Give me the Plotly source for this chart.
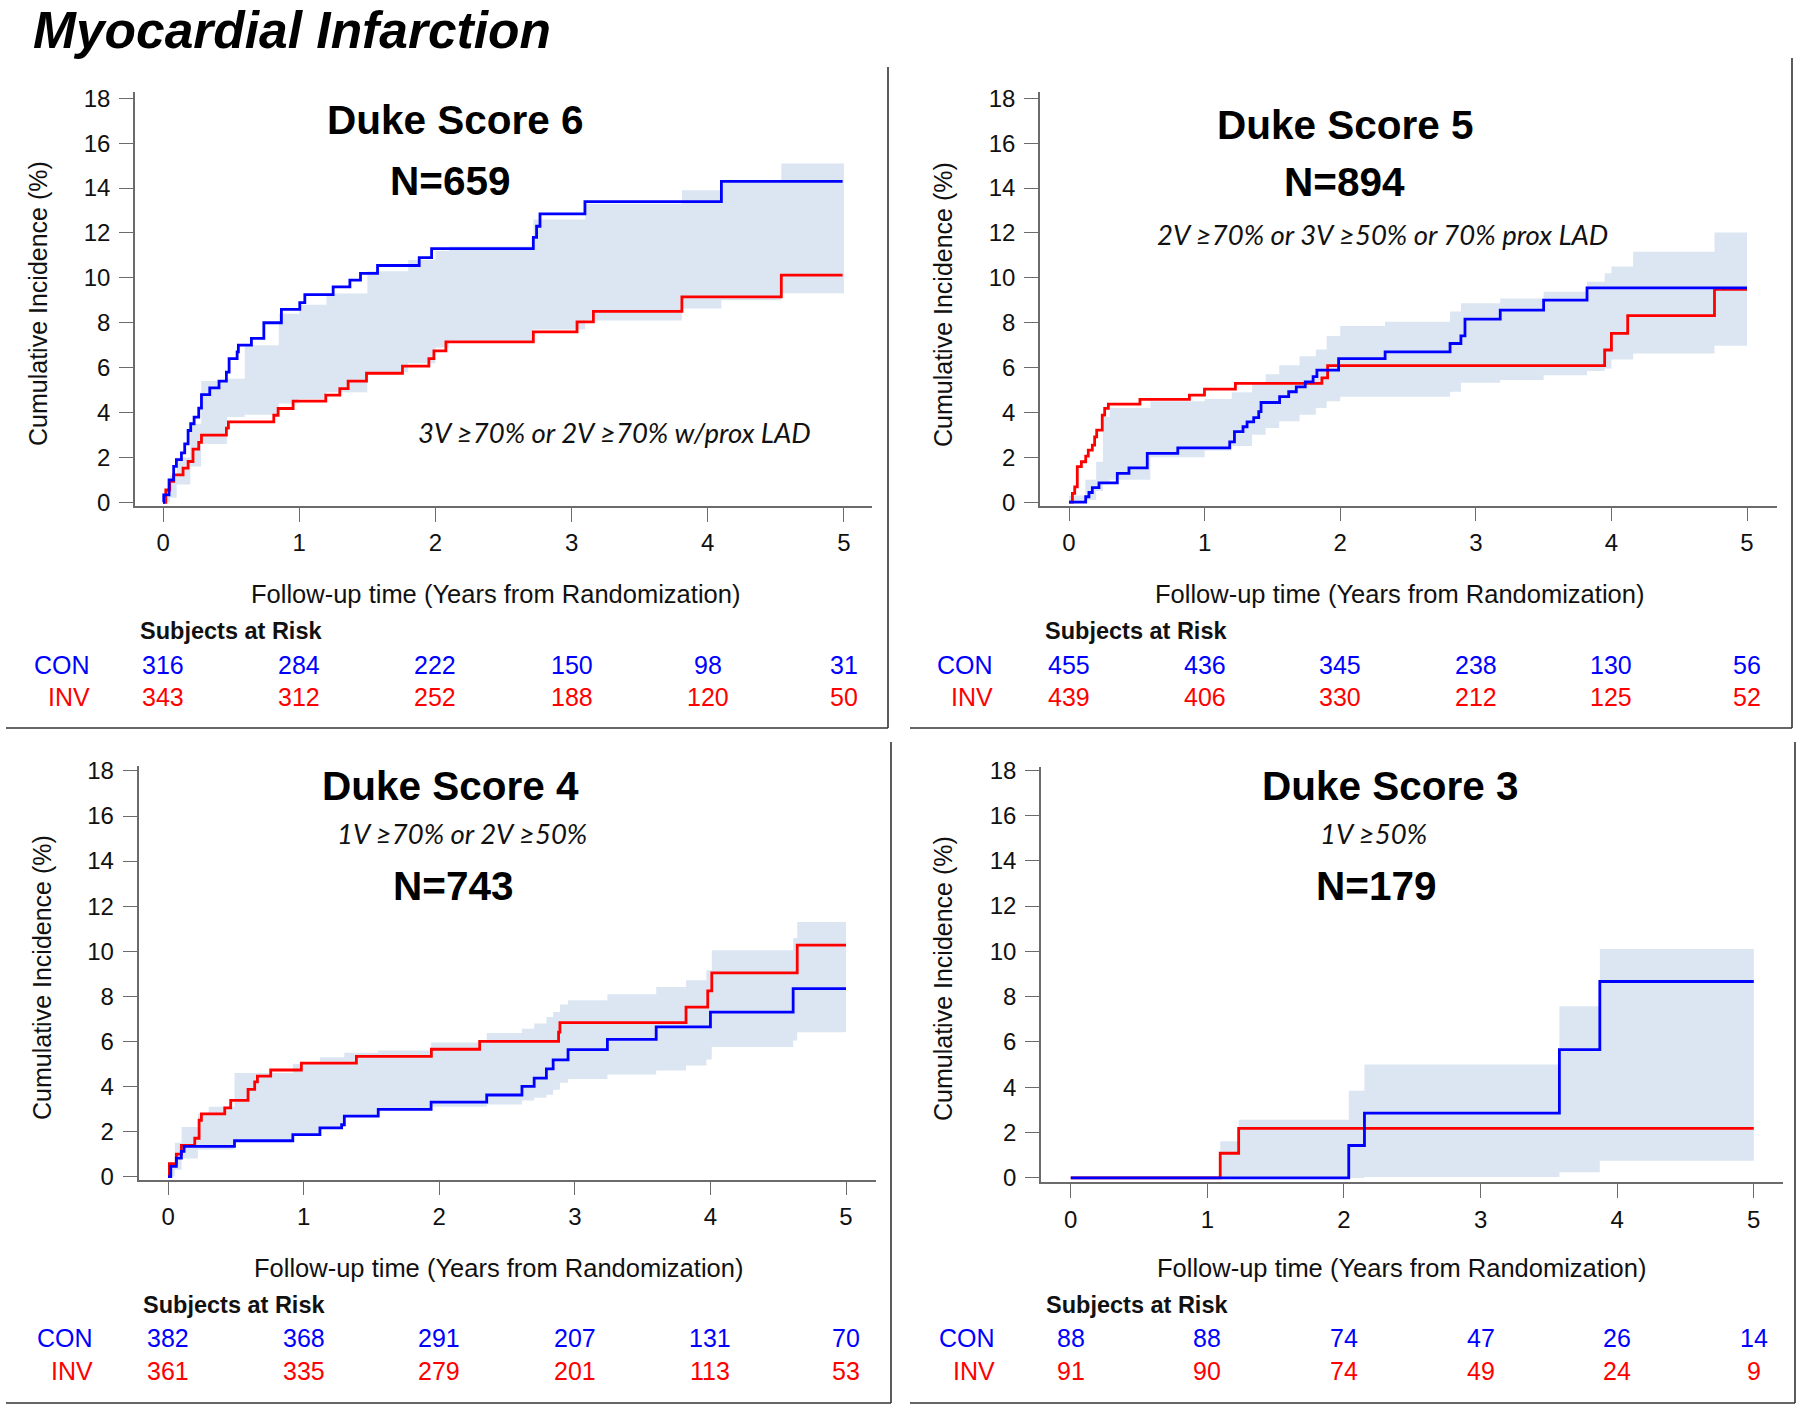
import plotly.graph_objects as go

# ---------------- data ----------------
years = [0, 1, 2, 3, 4, 5]
y_ticks = [0, 2, 4, 6, 8, 10, 12, 14, 16, 18]

# Duke Score 6
ds6_con_t = [0, 0.005, 0.044, 0.078, 0.098, 0.135, 0.159, 0.184, 0.203, 0.228, 0.262, 0.282, 0.343, 0.411, 0.465, 0.485,
             0.544, 0.553, 0.649, 0.740, 0.869, 1.004, 1.041, 1.249, 1.372, 1.450, 1.575, 1.881, 1.972, 2.719, 2.743,
             2.768, 3.098, 4.10, 4.99]
ds6_con_y = [0, 0.33, 1.0, 1.6, 1.9, 2.2, 2.6, 3.2, 3.5, 3.8, 4.2, 4.8, 5.1, 5.4, 5.8, 6.4,
             6.7, 7.0, 7.3, 8.0, 8.6, 8.9, 9.25, 9.6, 9.9, 10.2, 10.55, 10.9, 11.3, 11.8, 12.3,
             12.85, 13.4, 14.3, 14.3]
ds6_inv_t = [0, 0.02, 0.049, 0.078, 0.147, 0.184, 0.220, 0.262, 0.282, 0.465, 0.480, 0.813, 0.845, 0.955, 1.195,
             1.298, 1.359, 1.494, 1.758, 1.952, 1.989, 2.077, 2.719, 3.04, 3.16, 3.81, 4.54, 4.99]
ds6_inv_y = [0, 0.55, 0.93, 1.22, 1.52, 1.82, 2.37, 2.67, 2.99, 3.31, 3.58, 3.88, 4.18, 4.51, 4.78,
             5.07, 5.40, 5.75, 6.07, 6.40, 6.75, 7.15, 7.59, 8.04, 8.51, 9.15, 10.12, 10.12]
ds6_band_t = [0, 0.05, 0.1, 0.2, 0.28, 0.47, 0.6, 0.85, 1.0, 1.2, 1.5, 1.8, 2.0, 2.1, 2.72, 3.1, 3.81, 4.10, 4.54, 5.0]
ds6_band_lo = [0, 0.2, 0.8, 1.6, 2.6, 3.8, 3.9, 4.4, 4.6, 4.9, 5.8, 6.2, 6.9, 7.2, 7.7, 8.1, 8.64, 9.0, 9.31, 9.31]
ds6_band_hi = [0.3, 1.2, 2.0, 3.5, 5.4, 5.5, 7.0, 8.4, 8.8, 9.3, 10.3, 10.8, 11.2, 11.4, 12.6, 13.3, 13.9, 14.3, 15.1, 15.1]
ds6_risk_con = [316, 284, 222, 150, 98, 31]
ds6_risk_inv = [343, 312, 252, 188, 120, 50]

# Duke Score 5
ds5_con_t = [0, 0.123, 0.147, 0.172, 0.221, 0.356, 0.442, 0.577, 0.802, 1.185, 1.220, 1.283, 1.313, 1.362, 1.399,
             1.416, 1.553, 1.620, 1.676, 1.742, 1.80, 1.828, 1.988, 2.331, 2.81, 2.89, 2.92, 3.18, 3.50, 3.82, 5.0]
ds5_con_y = [0, 0.24, 0.43, 0.65, 0.86, 1.28, 1.53, 2.17, 2.42, 2.69, 3.14, 3.36, 3.58, 3.77, 4.03,
             4.44, 4.70, 4.92, 5.14, 5.36, 5.59, 5.88, 6.40, 6.70, 7.07, 7.41, 8.16, 8.56, 9.00, 9.55, 9.55]
ds5_inv_t = [0, 0.025, 0.042, 0.061, 0.091, 0.123, 0.142, 0.172, 0.189, 0.204, 0.245, 0.263, 0.290, 0.523, 0.888,
             0.999, 1.227, 1.865, 1.907, 3.95, 4.0, 4.12, 4.76, 5.0]
ds5_inv_y = [0, 0.39, 0.68, 1.58, 1.80, 2.05, 2.32, 2.54, 2.91, 3.21, 3.88, 4.18, 4.37, 4.58, 4.77,
             5.04, 5.29, 5.54, 6.08, 6.78, 7.52, 8.31, 9.48, 9.48]
ds5_band_t = [0, 0.12, 0.2, 0.25, 0.3, 0.6, 1.0, 1.2, 1.35, 1.45, 1.55, 1.7, 1.82, 1.9, 2.0, 2.33, 2.81, 2.89, 3.18,
              3.5, 3.82, 3.95, 4.0, 4.16, 4.76, 5.0]
ds5_band_lo = [0, 0.1, 0.5, 0.8, 1.0, 2.0, 2.3, 2.5, 3.0, 3.3, 3.6, 3.9, 4.2, 4.5, 4.7, 4.7, 4.92, 5.32, 5.44,
               5.66, 5.85, 5.96, 6.36, 6.63, 6.97, 6.97]
ds5_band_hi = [0.3, 1.0, 1.8, 3.8, 4.2, 4.5, 4.6, 4.9, 5.3, 5.7, 6.1, 6.5, 6.8, 7.4, 7.85, 8.04, 8.5, 8.86, 9.08,
               9.38, 9.82, 10.2, 10.5, 11.16, 12.02, 12.02]
ds5_risk_con = [455, 436, 345, 238, 130, 56]
ds5_risk_inv = [439, 406, 330, 212, 125, 52]

# Duke Score 4
ds4_con_t = [0, 0.02, 0.061, 0.098, 0.118, 0.49, 0.92, 1.12, 1.28, 1.30, 1.55, 1.94, 2.35, 2.61, 2.70, 2.79,
             2.84, 2.95, 3.24, 3.60, 4.00, 4.61, 5.0]
ds4_con_y = [0, 0.45, 0.82, 1.12, 1.34, 1.59, 1.86, 2.16, 2.3, 2.68, 2.98, 3.30, 3.62, 4.0, 4.37, 4.78,
             5.18, 5.63, 6.09, 6.64, 7.30, 8.34, 8.34]
ds4_inv_t = [0, 0.01, 0.061, 0.098, 0.197, 0.229, 0.246, 0.418, 0.462, 0.590, 0.639, 0.659, 0.757, 0.983, 1.389,
             1.942, 2.298, 2.88, 2.89, 3.82, 3.98, 4.01, 4.64, 5.0]
ds4_inv_y = [0, 0.57, 1.0, 1.38, 1.7, 2.5, 2.78, 3.05, 3.38, 3.87, 4.2, 4.46, 4.73, 5.03, 5.33,
             5.65, 6.0, 6.41, 6.83, 7.52, 8.24, 9.04, 10.27, 10.27]
ds4_band_t = [0, 0.05, 0.1, 0.22, 0.3, 0.49, 0.92, 1.12, 1.3, 1.55, 1.94, 2.35, 2.61, 2.70, 2.79, 2.84, 2.89, 2.95,
              3.24, 3.60, 3.82, 3.97, 4.01, 4.61, 4.64, 5.0]
ds4_band_lo = [0, 0.3, 0.8, 1.2, 1.2, 1.6, 1.9, 2.2, 2.7, 3.0, 3.1, 3.2, 3.38, 3.5, 3.63, 3.85, 4.16, 4.33,
               4.53, 4.71, 4.93, 5.19, 5.75, 6.04, 6.41, 6.41]
ds4_band_hi = [0.6, 1.5, 2.2, 2.8, 3.1, 4.6, 5.0, 5.3, 5.5, 5.6, 5.95, 6.37, 6.56, 6.79, 7.08, 7.30, 7.64, 7.82,
               8.09, 8.41, 8.71, 9.16, 10.04, 10.59, 11.3, 12.16]
ds4_risk_con = [382, 368, 291, 207, 131, 70]
ds4_risk_inv = [361, 335, 279, 201, 113, 53]

# Duke Score 3
ds3_con_t = [0, 2.035, 2.15, 3.577, 3.873, 5.0]
ds3_con_y = [0, 1.43, 2.86, 5.66, 8.67, 8.67]
ds3_inv_t = [0, 1.094, 1.229, 5.0]
ds3_inv_y = [0, 1.09, 2.19, 2.19]
ds3_band_t = [0, 1.094, 1.229, 2.035, 2.15, 3.577, 3.873, 5.0]
ds3_band_lo = [0, 0, 0, 0, 0.04, 0.25, 0.76, 0.76]
ds3_band_hi = [0, 1.62, 2.57, 3.85, 5.01, 7.58, 10.1, 10.1]
ds3_risk_con = [88, 88, 74, 47, 26, 14]
ds3_risk_inv = [91, 90, 74, 49, 24, 9]

# ---------------- styling / layout ----------------
W, H = 1800, 1410
BLUE = '#0000FF'
RED = '#FF0000'
BAND = 'rgb(220,230,242)'
AXC = '#6b6b6b'
FONT = 'Liberation Sans, Arial, sans-serif'
SUBFONT = 'Lato, Open Sans, sans-serif'


def px(x):
    return x / W


def py(y):
    return 1 - y / H


panels = [
    dict(con_t=ds6_con_t, con_y=ds6_con_y, inv_t=ds6_inv_t, inv_y=ds6_inv_y,
         bt=ds6_band_t, blo=ds6_band_lo, bhi=ds6_band_hi, rc=ds6_risk_con, ri=ds6_risk_inv,
         title='Duke Score 6', n='N=659', sub='3V ≥70% or 2V ≥70% w/prox LAD',
         xd=(135, 872), xr=(-0.206, 5.206), yd=(92, 505.7), yr=(-0.15, 18.28),
         tpos=(455, 120), npos=(450, 181), spos=(614, 432),
         ytit=(38, 304), xtit=(495, 594), sar=(138, 631), rows=(665, 697), lab_x=92,
         border=[(888, 67, 888, 728), (6, 728, 888, 728)]),
    dict(con_t=ds5_con_t, con_y=ds5_con_y, inv_t=ds5_inv_t, inv_y=ds5_inv_y,
         bt=ds5_band_t, blo=ds5_band_lo, bhi=ds5_band_hi, rc=ds5_risk_con, ri=ds5_risk_inv,
         title='Duke Score 5', n='N=894', sub='2V ≥70% or 3V ≥50% or 70% prox LAD',
         xd=(1040, 1777), xr=(-0.214, 5.221), yd=(92, 505.5), yr=(-0.15, 18.28),
         tpos=(1345, 125), npos=(1344, 182), spos=(1382, 234),
         ytit=(943, 304), xtit=(1399, 594), sar=(1043, 631), rows=(665, 697), lab_x=995,
         border=[(1792, 58, 1792, 728), (910, 728, 1792, 728)]),
    dict(con_t=ds4_con_t, con_y=ds4_con_y, inv_t=ds4_inv_t, inv_y=ds4_inv_y,
         bt=ds4_band_t, blo=ds4_band_lo, bhi=ds4_band_hi, rc=ds4_risk_con, ri=ds4_risk_inv,
         title='Duke Score 4', n='N=743', sub='1V ≥70% or 2V ≥50%',
         xd=(138.5, 876), xr=(-0.218, 5.221), yd=(766, 1179.5), yr=(-0.13, 18.22),
         tpos=(450, 786), npos=(453, 886), spos=(462, 833),
         ytit=(42, 978), xtit=(498, 1268), sar=(141, 1305), rows=(1338, 1371), lab_x=95,
         border=[(891, 742, 891, 1403), (6, 1403, 891, 1403)]),
    dict(con_t=ds3_con_t, con_y=ds3_con_y, inv_t=ds3_inv_t, inv_y=ds3_inv_y,
         bt=ds3_band_t, blo=ds3_band_lo, bhi=ds3_band_hi, rc=ds3_risk_con, ri=ds3_risk_inv,
         title='Duke Score 3', n='N=179', sub='1V ≥50%',
         xd=(1041, 1783), xr=(-0.218, 5.214), yd=(766.7, 1182), yr=(-0.18, 18.15),
         tpos=(1390, 786), npos=(1376, 886), spos=(1373, 833),
         ytit=(943, 978), xtit=(1401, 1268), sar=(1044, 1305), rows=(1338, 1371), lab_x=997,
         border=[(1795, 742, 1795, 1403), (910, 1403, 1795, 1403)]),
]

fig = go.Figure()
annotations = []
shapes = []
layout_axes = {}

for i, p in enumerate(panels, start=1):
    xa = 'x' if i == 1 else f'x{i}'
    ya = 'y' if i == 1 else f'y{i}'
    # confidence band
    fig.add_trace(go.Scatter(x=p['bt'], y=p['blo'], mode='lines', line=dict(width=0, shape='hv'),
                             xaxis=xa, yaxis=ya, showlegend=False, hoverinfo='skip'))
    fig.add_trace(go.Scatter(x=p['bt'], y=p['bhi'], mode='lines', line=dict(width=0, shape='hv'),
                             fill='tonexty', fillcolor=BAND,
                             xaxis=xa, yaxis=ya, showlegend=False, hoverinfo='skip'))
    fig.add_trace(go.Scatter(x=p['inv_t'], y=p['inv_y'], mode='lines', line=dict(color=RED, width=2.8, shape='hv'),
                             xaxis=xa, yaxis=ya, showlegend=False, name='INV'))
    fig.add_trace(go.Scatter(x=p['con_t'], y=p['con_y'], mode='lines', line=dict(color=BLUE, width=2.8, shape='hv'),
                             xaxis=xa, yaxis=ya, showlegend=False, name='CON'))

    axis_common = dict(showgrid=False, zeroline=False, showline=True, linecolor=AXC, linewidth=1.6,
                       ticks='outside', ticklen=14, tickwidth=1.4, tickcolor=AXC, automargin=False,
                       tickfont=dict(family=FONT, size=24, color='#111'))
    layout_axes['xaxis' if i == 1 else f'xaxis{i}'] = dict(
        axis_common, domain=[px(p['xd'][0]), px(p['xd'][1])], range=list(p['xr']),
        anchor=ya, tickvals=years, ticklabelstandoff=1)
    layout_axes['yaxis' if i == 1 else f'yaxis{i}'] = dict(
        axis_common, domain=[py(p['yd'][1]), py(p['yd'][0])], range=list(p['yr']),
        anchor=xa, tickvals=y_ticks, ticklabelstandoff=4)

    def ann(text, x, y, size, family=FONT, color='black', xanchor='center', angle=0, xref='paper'):
        annotations.append(dict(text=text, x=x if xref != 'paper' else px(x), y=py(y), xref=xref, yref='paper',
                                showarrow=False, xanchor=xanchor, yanchor='middle', textangle=angle,
                                font=dict(family=family, size=size, color=color)))

    ann(f'<b>{p["title"]}</b>', p['tpos'][0], p['tpos'][1], 40.5)
    ann(f'<b>{p["n"]}</b>', p['npos'][0], p['npos'][1], 40.5)
    ann(f'<i>{p["sub"]}</i>', p['spos'][0], p['spos'][1], 27.5, family=SUBFONT, color='#111')
    ann('Cumulative Incidence (%)', p['ytit'][0], p['ytit'][1], 25, angle=-90, color='#111')
    ann('Follow-up time (Years from Randomization)', p['xtit'][0], p['xtit'][1], 25.5, color='#111')
    ann('<b>Subjects at Risk</b>', p['sar'][0], p['sar'][1], 23.5, xanchor='left', color='#111')
    ann('CON', p['lab_x'], p['rows'][0], 25, color=BLUE, xanchor='right')
    ann('INV', p['lab_x'], p['rows'][1], 25, color=RED, xanchor='right')
    for t, c, v in zip(years, p['rc'], p['ri']):
        ann(str(c), t, p['rows'][0], 25, color=BLUE, xref=xa)
        ann(str(v), t, p['rows'][1], 25, color=RED, xref=xa)

    for (x0, y0, x1, y1) in p['border']:
        shapes.append(dict(type='line', xref='paper', yref='paper', x0=px(x0), y0=py(y0), x1=px(x1), y1=py(y1),
                           line=dict(color='#333333', width=1.6)))

annotations.append(dict(text='<b><i>Myocardial Infarction</i></b>', x=px(32), y=1, xref='paper', yref='paper',
                        showarrow=False, xanchor='left', yanchor='top', borderpad=0,
                        font=dict(family=FONT, size=51.5, color='black')))

fig.update_layout(width=W, height=H, margin=dict(l=0, r=0, t=0, b=0, pad=0, autoexpand=False),
                  paper_bgcolor='white', plot_bgcolor='white', showlegend=False,
                  annotations=annotations, shapes=shapes, **layout_axes)

fig.write_html('out.html', config={'displayModeBar': False},
               post_script="document.body.style.margin='0';document.body.style.overflow='hidden';")
